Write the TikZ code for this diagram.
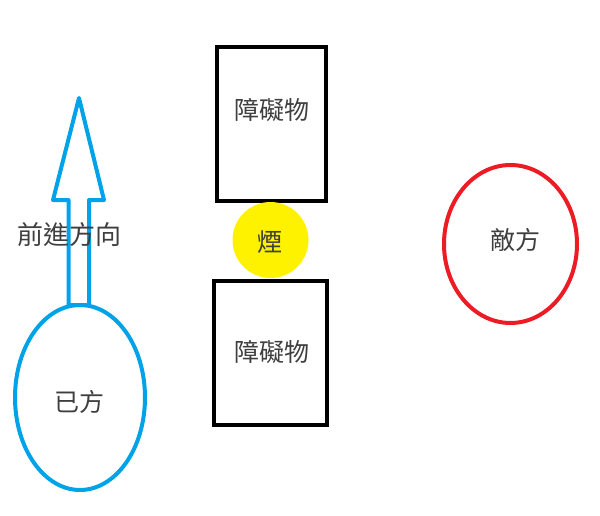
\documentclass[tikz,border=0pt]{standalone}
\usepackage{fontspec}
\setmainfont{Noto Sans CJK TC}
\usetikzlibrary{shapes.geometric}
\definecolor{pblue}{HTML}{00A2E8}
\definecolor{pred}{HTML}{ED1C24}
\definecolor{pyellow}{HTML}{FFF200}
\definecolor{ptext}{HTML}{3F3F3F}
\tikzset{
  lbl/.style={text=ptext, font=\fontsize{25}{30}\selectfont, inner sep=0pt},
  obst/.style={draw=black, line width=4pt, minimum width=109pt, inner sep=0pt},
  side/.style={ellipse, line width=4pt, inner sep=0pt},
}
\begin{document}
\begin{tikzpicture}[x=1pt,y=-1pt]
\useasboundingbox (0,0) rectangle (600,516);
% obstacles
\node[obst, minimum height=154pt] (ob1) at (271.5,124) {};
\node[lbl] (t1) at (272,110) {障礙物};
\node[obst, minimum width=113pt, minimum height=144pt] (ob2) at (270.5,353) {};
\node[lbl] (t2) at (272,352) {障礙物};
% smoke
\node[circle, fill=pyellow, minimum size=76pt, inner sep=0pt] (smoke) at (270.5,240) {};
\node[lbl] (t3) at (270,242) {煙};
% enemy
\node[side, draw=pred, minimum width=133pt, minimum height=158pt] (enemy) at (510.5,244) {};
\node[lbl] (t4) at (515,240) {敵方};
% own side
\node[side, draw=pblue, minimum width=130pt, minimum height=185pt] (own) at (80,397.5) {};
\node[lbl] (t5) at (79,402) {已方};
% arrow
\coordinate (tip) at (79,98);
\draw[pblue, line width=4pt, line join=round]
  (tip) -- (104,200) -- (89,200) -- (89,305) -- (68.5,305) -- (68.5,200) -- (53,200) -- cycle;
\node[lbl, font=\fontsize{26}{30}\selectfont] (dir) at (69,235) {前進方向};
\end{tikzpicture}
\end{document}
